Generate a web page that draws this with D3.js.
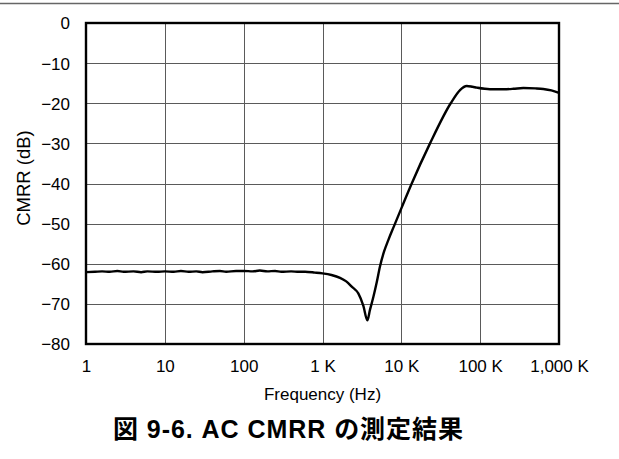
<!DOCTYPE html>
<html>
<head>
<meta charset="utf-8">
<script src="https://cdn.jsdelivr.net/npm/d3@7"></script>
<style>
  html, body { margin: 0; padding: 0; background: #fff; }
  svg { display: block; }
  text { font-family: "Liberation Sans", Arial, "Noto Sans CJK JP", sans-serif; fill: #000; }
</style>
</head>
<body>
<script>
// ---- data ----
const freqHz = [1, 1.3, 1.6, 2, 2.5, 3, 4, 5, 6, 8, 10, 13, 16, 20, 25, 30, 40, 50, 60, 80,
  100, 130, 160, 200, 250, 300, 400, 500, 600, 800, 1000, 1300, 1668, 2000, 2348, 2846, 3300,
  3704, 4000, 4415, 4875, 5368, 6030, 6835, 8000, 10000, 13550, 23120, 42300, 55500, 67500, 80000, 90400,
  133000, 200000, 263000, 353000, 500000, 632000, 800000, 1000000];
const cmrrDb = [-62.1, -62.0, -61.9, -62.0, -61.8, -62.0, -61.9, -62.1, -61.9, -62.0,
  -61.9, -62.0, -61.8, -62.0, -61.9, -62.1, -61.9, -61.8, -62.0, -61.8,
  -61.8, -61.9, -61.7, -61.9, -61.8, -62.0, -61.9, -62.0, -62.0, -62.2, -62.4, -62.8, -63.5, -64.4,
  -65.7, -67.4, -70.5, -74.1, -71.5, -68.3, -64.6, -60.6, -57.0, -54.1, -50.8, -46.2, -40.0, -30.0, -20.0, -16.7,
  -15.7, -15.9, -16.1, -16.5, -16.5, -16.4, -16.2, -16.3, -16.45, -16.8, -17.4];
const xTickValues = [1, 10, 100, 1000, 10000, 100000, 1000000];
const xTickLabels = ["1", "10", "100", "1 K", "10 K", "100 K", "1,000 K"];
const yTickValues = [0, -10, -20, -30, -40, -50, -60, -70, -80];
const yTickLabels = ["0", "\u221210", "\u221220", "\u221230", "\u221240", "\u221250", "\u221260", "\u221270", "\u221280"];
const xTitle = "Frequency (Hz)";
const yTitle = "CMRR (dB)";
const figTitle = "図 9-6. AC CMRR の測定結果";

// ---- layout ----
const W = 619, H = 459;
const L = 86, R = 559, T = 23, B = 344;

const svg = d3.select("body").append("svg").attr("width", W).attr("height", H);

// top rule
svg.append("line").attr("x1", 0).attr("x2", W).attr("y1", 3.5).attr("y2", 3.5)
  .attr("stroke", "#666").attr("stroke-width", 1.6);

const x = d3.scaleLog().domain([1, 1e6]).range([L, R]);
const y = d3.scaleLinear().domain([-80, 0]).range([B, T]);

// grid
const grid = svg.append("g");
grid.selectAll("line.v").data(xTickValues.slice(1, -1)).join("line")
  .attr("x1", d => Math.round(x(d)) + 0.5).attr("x2", d => Math.round(x(d)) + 0.5)
  .attr("y1", T).attr("y2", B).attr("stroke", "#5a5a5a").attr("stroke-width", 1);
grid.selectAll("line.h").data(yTickValues.slice(1, -1)).join("line")
  .attr("y1", d => Math.round(y(d)) + 0.5).attr("y2", d => Math.round(y(d)) + 0.5)
  .attr("x1", L).attr("x2", R).attr("stroke", "#5a5a5a").attr("stroke-width", 1);

// axes (labels only)
const xAxis = d3.axisBottom(x).tickValues(xTickValues)
  .tickFormat((d, i) => xTickLabels[i]).tickSize(0).tickPadding(0);
const gx = svg.append("g").attr("transform", `translate(0,${B})`).call(xAxis);
gx.select(".domain").remove();
gx.selectAll("text").attr("y", 28).attr("dy", null)
  .style("font-size", "17px").attr("font-family", null);

const yAxis = d3.axisLeft(y).tickValues(yTickValues)
  .tickFormat((d, i) => yTickLabels[i]).tickSize(0).tickPadding(0);
const gy = svg.append("g").attr("transform", `translate(${L},0)`).call(yAxis);
gy.select(".domain").remove();
gy.selectAll("text").attr("x", -16).attr("dy", "0.35em")
  .style("font-size", "17px").attr("font-family", null);

// curve
const line = d3.line()
  .x((d, i) => x(freqHz[i]))
  .y(d => y(d))
  .curve(d3.curveMonotoneX);
svg.append("path").datum(cmrrDb).attr("d", line)
  .attr("fill", "none").attr("stroke", "#000").attr("stroke-width", 2.4)
  .attr("stroke-linejoin", "round");

// frame
svg.append("rect").attr("x", L).attr("y", T).attr("width", R - L).attr("height", B - T)
  .attr("fill", "none").attr("stroke", "#000").attr("stroke-width", 2.4);

// titles
svg.append("text").attr("x", (L + R) / 2).attr("y", 400).attr("text-anchor", "middle")
  .style("font-size", "17px").text(xTitle);
svg.append("text").attr("transform", "translate(30,178) rotate(-90)").attr("text-anchor", "middle")
  .style("font-size", "18.5px").text(yTitle);
svg.append("text").attr("x", 113).attr("y", 438)
  .attr("textLength", 350).attr("lengthAdjust", "spacing")
  .style("font-size", "25px").style("font-weight", "bold")
  .style("font-family", "'Liberation Sans', Arial, 'Noto Sans CJK JP', sans-serif")
  .text(figTitle);
</script>
</body>
</html>
